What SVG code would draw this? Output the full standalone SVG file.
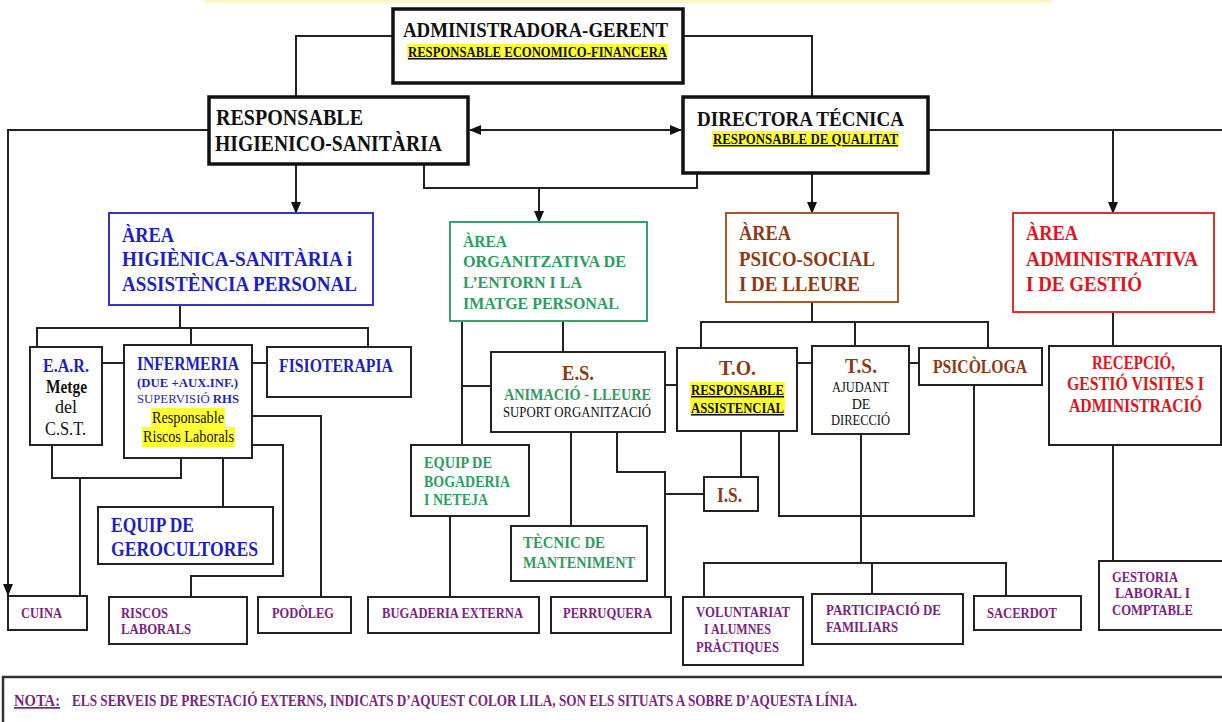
<svg xmlns="http://www.w3.org/2000/svg" width="1222" height="722" viewBox="0 0 1222 722">
<defs>
<marker id="ah" markerUnits="userSpaceOnUse" markerWidth="12" markerHeight="12" viewBox="0 0 12 12" refX="11" refY="6" orient="auto-start-reverse">
<path d="M0,1 L12,6 L0,11 Z" fill="#111"/>
</marker>
</defs>
<style>
.t{font-family:"Liberation Serif","Times New Roman",serif;font-weight:bold}
.n{font-family:"Liberation Serif","Times New Roman",serif;font-weight:normal}
.box{fill:#fff;stroke:#222;stroke-width:2}
.big{fill:#fff;stroke:#111;stroke-width:3.5}
.bl{fill:#1f1fbf}.gr{fill:#2e9c62}.br{fill:#8b3a14}.rd{fill:#e0141e}.pu{fill:#7d1f7d}.bk{fill:#111}
.hl{fill:#ffff33}
.c path,.c line{fill:none;stroke:#222;stroke-width:2}
</style>
<rect x="205" y="0" width="847" height="3" fill="#fff4c4"/>
<g id="connectors" class="c">
<path d="M393,36 H296 V97"/>
<path d="M683,36 H812 V97"/>
<line x1="470" y1="130" x2="681" y2="130" marker-start="url(#ah)" marker-end="url(#ah)"/>
<path d="M209,130 H8 V595" marker-end="url(#ah)"/>
<path d="M928,130 H1222"/>
<path d="M1113,130 V213" marker-end="url(#ah)"/>
<path d="M296,164 V213" marker-end="url(#ah)"/>
<path d="M424,164 V188 H697 V173"/>
<path d="M539,188 V222" marker-end="url(#ah)"/>
<path d="M812,173 V213" marker-end="url(#ah)"/>
<path d="M180,305 V328"/>
<path d="M37,347 V328 H368 V347"/>
<path d="M191,328 V345"/>
<path d="M102,363 H124"/>
<path d="M252,363 H267"/>
<path d="M52,445 V478 H181 V458"/>
<path d="M80,478 V596"/>
<path d="M223,458 V507"/>
<path d="M252,445 H283 V576 H191 V597"/>
<path d="M252,416 H321 V597"/>
<path d="M462,321 V445"/>
<path d="M462,386 H491"/>
<path d="M563,321 V352"/>
<path d="M665,385 H678"/>
<path d="M617,432 V472 H665 V597"/>
<path d="M665,494 H704"/>
<path d="M571,432 V526"/>
<path d="M450,516 V597"/>
<path d="M812,302 V322"/>
<path d="M701,348 V322 H988 V348"/>
<path d="M855,322 V346"/>
<path d="M797,363 H812"/>
<path d="M909,363 H919"/>
<path d="M741,431 V477"/>
<path d="M779,431 V516 H974 V385"/>
<path d="M861,434 V563"/>
<path d="M704,597 V563 H1006 V596"/>
<path d="M872,563 V594"/>
<path d="M1113,312 V346"/>
<path d="M1113,445 V561"/>
</g>
<g id="admin">
<rect class="big" x="393" y="9" width="290" height="74"/>
<text class="t bk" x="403" y="37" font-size="21" textLength="265" lengthAdjust="spacingAndGlyphs">ADMINISTRADORA-GERENT</text>
<rect class="hl" x="407" y="44" width="261" height="16"/>
<text class="t bk" x="408" y="57" font-size="15" text-decoration="underline" textLength="259" lengthAdjust="spacingAndGlyphs">RESPONSABLE ECONOMICO-FINANCERA</text>
</g>
<g id="resp-higienico">
<rect class="big" x="209" y="97" width="259" height="67"/>
<text class="t bk" x="216" y="125" font-size="23" textLength="147" lengthAdjust="spacingAndGlyphs">RESPONSABLE</text>
<text class="t bk" x="215" y="151" font-size="23" textLength="227" lengthAdjust="spacingAndGlyphs">HIGIENICO-SANITÀRIA</text>
</g>
<g id="directora">
<rect class="big" x="683" y="97" width="245" height="76"/>
<text class="t bk" x="697" y="126" font-size="21" textLength="207" lengthAdjust="spacingAndGlyphs">DIRECTORA TÉCNICA</text>
<rect class="hl" x="712" y="131" width="187" height="16"/>
<text class="t bk" x="713" y="144" font-size="14" text-decoration="underline" textLength="185" lengthAdjust="spacingAndGlyphs">RESPONSABLE DE QUALITAT</text>
</g>
<g id="area-higienica">
<rect x="109" y="213" width="264" height="92" fill="#fff" stroke="#3535c8" stroke-width="2"/>
<text class="t bl" x="122" y="242" font-size="20" textLength="52" lengthAdjust="spacingAndGlyphs">ÀREA</text>
<text class="t bl" x="122" y="266" font-size="20" textLength="230" lengthAdjust="spacingAndGlyphs">HIGIÈNICA-SANITÀRIA i</text>
<text class="t bl" x="122" y="291" font-size="20" textLength="235" lengthAdjust="spacingAndGlyphs">ASSISTÈNCIA PERSONAL</text>
</g>
<g id="area-organitzativa">
<rect x="450" y="222" width="197" height="99" fill="#fff" stroke="#3a9e6e" stroke-width="2"/>
<text class="t gr" x="463" y="247" font-size="16" textLength="44" lengthAdjust="spacingAndGlyphs">ÀREA</text>
<text class="t gr" x="463" y="267" font-size="16" textLength="163" lengthAdjust="spacingAndGlyphs">ORGANITZATIVA DE</text>
<text class="t gr" x="463" y="288" font-size="16" textLength="119" lengthAdjust="spacingAndGlyphs">L’ENTORN I LA</text>
<text class="t gr" x="463" y="309" font-size="16" textLength="156" lengthAdjust="spacingAndGlyphs">IMATGE PERSONAL</text>
</g>
<g id="area-psico">
<rect x="726" y="213" width="172" height="89" fill="#fff" stroke="#a55a2a" stroke-width="2"/>
<text class="t br" x="739" y="240" font-size="20" textLength="52" lengthAdjust="spacingAndGlyphs">ÀREA</text>
<text class="t br" x="739" y="266" font-size="20" textLength="136" lengthAdjust="spacingAndGlyphs">PSICO-SOCIAL</text>
<text class="t br" x="739" y="291" font-size="20" textLength="121" lengthAdjust="spacingAndGlyphs">I DE LLEURE</text>
</g>
<g id="area-administrativa">
<rect x="1013" y="213" width="201" height="99" fill="#fff" stroke="#e03030" stroke-width="2"/>
<text class="t rd" x="1026" y="240" font-size="20" textLength="52" lengthAdjust="spacingAndGlyphs">ÀREA</text>
<text class="t rd" x="1026" y="266" font-size="20" textLength="172" lengthAdjust="spacingAndGlyphs">ADMINISTRATIVA</text>
<text class="t rd" x="1026" y="291" font-size="20" textLength="116" lengthAdjust="spacingAndGlyphs">I DE GESTIÓ</text>
</g>
<g id="ear">
<rect class="box" x="30" y="347" width="72" height="98"/>
<text class="t bl" x="43" y="372" font-size="19" textLength="46" lengthAdjust="spacingAndGlyphs">E.A.R.</text>
<text class="t bk" x="46" y="393" font-size="18" textLength="41" lengthAdjust="spacingAndGlyphs">Metge</text>
<text class="n bk" x="66" y="413" font-size="18" text-anchor="middle">del</text>
<text class="n bk" x="45" y="435" font-size="18" textLength="41" lengthAdjust="spacingAndGlyphs">C.S.T.</text>
</g>
<g id="infermeria">
<rect class="box" x="124" y="345" width="128" height="113"/>
<text class="t bl" x="137" y="370" font-size="19" textLength="102" lengthAdjust="spacingAndGlyphs">INFERMERIA</text>
<text class="t bl" x="137" y="387" font-size="13" textLength="101" lengthAdjust="spacingAndGlyphs">(DUE +AUX.INF.)</text>
<text class="n bl" x="137" y="403" font-size="13" textLength="102" lengthAdjust="spacingAndGlyphs">SUPERVISIÓ <tspan font-weight="bold">RHS</tspan></text>
<rect class="hl" x="151" y="408" width="74" height="19"/>
<rect class="hl" x="142" y="427" width="93" height="20"/>
<text class="n bk" x="152" y="423" font-size="16" textLength="72" lengthAdjust="spacingAndGlyphs">Responsable</text>
<text class="n bk" x="143" y="442" font-size="16" textLength="91" lengthAdjust="spacingAndGlyphs">Riscos Laborals</text>
</g>
<g id="fisioterapia">
<rect class="box" x="267" y="347" width="144" height="50"/>
<text class="t bl" x="279" y="372" font-size="19" textLength="114" lengthAdjust="spacingAndGlyphs">FISIOTERAPIA</text>
</g>
<g id="gerocultores">
<rect class="box" x="98" y="507" width="175" height="57"/>
<text class="t bl" x="111" y="532" font-size="21" textLength="83" lengthAdjust="spacingAndGlyphs">EQUIP DE</text>
<text class="t bl" x="111" y="556" font-size="21" textLength="147" lengthAdjust="spacingAndGlyphs">GEROCULTORES</text>
</g>
<g id="es">
<rect class="box" x="491" y="352" width="174" height="80"/>
<text class="t br" x="562" y="380" font-size="22" textLength="32" lengthAdjust="spacingAndGlyphs">E.S.</text>
<text class="t gr" x="504" y="400" font-size="17" textLength="147" lengthAdjust="spacingAndGlyphs">ANIMACIÓ - LLEURE</text>
<text class="n bk" x="503" y="417" font-size="14" textLength="148" lengthAdjust="spacingAndGlyphs">SUPORT ORGANITZACIÓ</text>
</g>
<g id="to">
<rect class="box" x="677" y="348" width="120" height="83"/>
<text class="t br" x="719" y="375" font-size="21" textLength="37" lengthAdjust="spacingAndGlyphs">T.O.</text>
<rect class="hl" x="690" y="382" width="95" height="34"/>
<text class="t bk" x="691" y="395" font-size="15" text-decoration="underline" textLength="93" lengthAdjust="spacingAndGlyphs">RESPONSABLE</text>
<text class="t bk" x="691" y="413" font-size="15" text-decoration="underline" textLength="93" lengthAdjust="spacingAndGlyphs">ASSISTENCIAL</text>
</g>
<g id="ts">
<rect class="box" x="812" y="346" width="97" height="88"/>
<text class="t br" x="845" y="373" font-size="21" textLength="32" lengthAdjust="spacingAndGlyphs">T.S.</text>
<text class="n bk" x="832" y="392" font-size="14" textLength="57" lengthAdjust="spacingAndGlyphs">AJUDANT</text>
<text class="n bk" x="861" y="409" font-size="14" text-anchor="middle">DE</text>
<text class="n bk" x="831" y="425" font-size="14" textLength="59" lengthAdjust="spacingAndGlyphs">DIRECCIÓ</text>
</g>
<g id="psicologa">
<rect class="box" x="919" y="348" width="123" height="37"/>
<text class="t br" x="933" y="373" font-size="19" textLength="94" lengthAdjust="spacingAndGlyphs">PSICÒLOGA</text>
</g>
<g id="recepcio">
<rect class="box" x="1049" y="346" width="172" height="99"/>
<text class="t rd" x="1092" y="369" font-size="18" textLength="83" lengthAdjust="spacingAndGlyphs">RECEPCIÓ,</text>
<text class="t rd" x="1067" y="390" font-size="18" textLength="137" lengthAdjust="spacingAndGlyphs">GESTIÓ VISITES I</text>
<text class="t rd" x="1069" y="412" font-size="18" textLength="133" lengthAdjust="spacingAndGlyphs">ADMINISTRACIÓ</text>
</g>
<g id="bogaderia">
<rect class="box" x="411" y="445" width="118" height="71"/>
<text class="t gr" x="424" y="468" font-size="17" textLength="68" lengthAdjust="spacingAndGlyphs">EQUIP DE</text>
<text class="t gr" x="424" y="487" font-size="17" textLength="86" lengthAdjust="spacingAndGlyphs">BOGADERIA</text>
<text class="t gr" x="424" y="505" font-size="17" textLength="64" lengthAdjust="spacingAndGlyphs">I NETEJA</text>
</g>
<g id="tecnic">
<rect class="box" x="511" y="526" width="136" height="55"/>
<text class="t gr" x="523" y="548" font-size="17" textLength="82" lengthAdjust="spacingAndGlyphs">TÈCNIC  DE</text>
<text class="t gr" x="523" y="568" font-size="17" textLength="112" lengthAdjust="spacingAndGlyphs">MANTENIMENT</text>
</g>
<g id="is">
<rect class="box" x="704" y="477" width="54" height="34"/>
<text class="t br" x="717" y="502" font-size="20" textLength="25" lengthAdjust="spacingAndGlyphs">I.S.</text>
</g>
<g id="cuina">
<rect class="box" x="8" y="596" width="79" height="34"/>
<text class="t pu" x="21" y="618" font-size="15" textLength="41" lengthAdjust="spacingAndGlyphs">CUINA</text>
</g>
<g id="riscos">
<rect class="box" x="109" y="597" width="138" height="47"/>
<text class="t pu" x="121" y="618" font-size="15" textLength="47" lengthAdjust="spacingAndGlyphs">RISCOS</text>
<text class="t pu" x="121" y="634" font-size="15" textLength="70" lengthAdjust="spacingAndGlyphs">LABORALS</text>
</g>
<g id="podoleg">
<rect class="box" x="258" y="597" width="93" height="36"/>
<text class="t pu" x="272" y="618" font-size="15" textLength="62" lengthAdjust="spacingAndGlyphs">PODÒLEG</text>
</g>
<g id="bugaderia">
<rect class="box" x="368" y="597" width="171" height="36"/>
<text class="t pu" x="382" y="618" font-size="15" textLength="141" lengthAdjust="spacingAndGlyphs">BUGADERIA EXTERNA</text>
</g>
<g id="perruquera">
<rect class="box" x="551" y="597" width="120" height="36"/>
<text class="t pu" x="563" y="618" font-size="15" textLength="89" lengthAdjust="spacingAndGlyphs">PERRUQUERA</text>
</g>
<g id="voluntariat">
<rect class="box" x="683" y="597" width="120" height="68"/>
<text class="t pu" x="696" y="617" font-size="14" textLength="94" lengthAdjust="spacingAndGlyphs">VOLUNTARIAT</text>
<text class="t pu" x="704" y="634" font-size="14" textLength="67" lengthAdjust="spacingAndGlyphs">I ALUMNES</text>
<text class="t pu" x="696" y="652" font-size="14" textLength="83" lengthAdjust="spacingAndGlyphs">PRÀCTIQUES</text>
</g>
<g id="participacio">
<rect class="box" x="812" y="594" width="151" height="50"/>
<text class="t pu" x="826" y="615" font-size="15" textLength="115" lengthAdjust="spacingAndGlyphs">PARTICIPACIÓ DE</text>
<text class="t pu" x="826" y="632" font-size="15" textLength="72" lengthAdjust="spacingAndGlyphs">FAMILIARS</text>
</g>
<g id="sacerdot">
<rect class="box" x="974" y="596" width="107" height="34"/>
<text class="t pu" x="987" y="618" font-size="15" textLength="70" lengthAdjust="spacingAndGlyphs">SACERDOT</text>
</g>
<g id="gestoria">
<rect class="box" x="1099" y="561" width="130" height="69"/>
<text class="t pu" x="1112" y="582" font-size="14" textLength="66" lengthAdjust="spacingAndGlyphs">GESTORIA</text>
<text class="t pu" x="1115" y="598" font-size="14" textLength="75" lengthAdjust="spacingAndGlyphs">LABORAL  I</text>
<text class="t pu" x="1112" y="615" font-size="14" textLength="81" lengthAdjust="spacingAndGlyphs">COMPTABLE</text>
</g>
<g id="nota">
<rect x="3" y="677" width="1230" height="60" fill="#fff" stroke="#333" stroke-width="2.5"/>
<text class="t pu" x="14" y="706" font-size="17" text-decoration="underline" textLength="46" lengthAdjust="spacingAndGlyphs">NOTA:</text>
<text class="t pu" x="72" y="706" font-size="17" textLength="785" lengthAdjust="spacingAndGlyphs">ELS SERVEIS DE PRESTACIÓ EXTERNS, INDICATS D’AQUEST COLOR LILA, SON ELS SITUATS  A SOBRE D’AQUESTA LÍNIA.</text>
</g>
</svg>
